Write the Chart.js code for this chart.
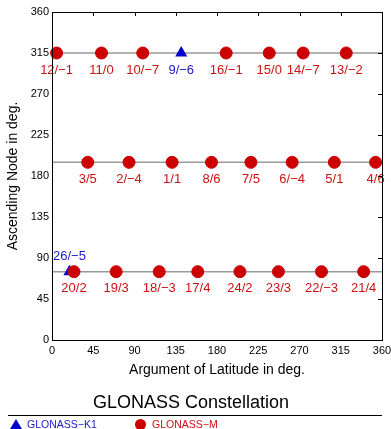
<!DOCTYPE html>
<html>
<head>
<meta charset="utf-8">
<script src="https://cdn.jsdelivr.net/npm/chart.js@4/dist/chart.umd.min.js"></script>
<style>
  body { margin: 0; background: #fff; font-family: 'Liberation Sans', Arial, sans-serif; }
  #wrap { position: relative; width: 391px; height: 429px; }
  #legend { position: absolute; left: 8px; top: 415px; width: 374px; height: 14px; border-top: 1px solid #000; font-size: 10.5px; }
  #legend span { position: absolute; top: 2px; line-height: 12px; }
  .tri { position: absolute; left: 2px; top: 3px; width: 0; height: 0; border-left: 6px solid transparent; border-right: 6px solid transparent; border-bottom: 10px solid #0000cc; }
  .dot { position: absolute; left: 127px; top: 3px; width: 11px; height: 11px; border-radius: 50%; background: #cc0000; }
</style>
</head>
<body>
<div id="wrap">
  <canvas id="chart" width="391" height="429"></canvas>
  <div id="legend">
    <div class="tri"></div><span style="left:19px;color:#1a1acc">GLONASS−K1</span>
    <div class="dot"></div><span style="left:144px;color:#cc1111">GLONASS−M</span>
  </div>
</div>
<script>
// orbital planes (ascending node, deg)
const planeNodes = [315, 195, 75];

// GLONASS-M satellites: slot/frequency channel
const mSlots = ['12/−1', '11/0', '10/−7', '16/−1', '15/0', '14/−7', '13/−2',
                '3/5', '2/−4', '1/1', '8/6', '7/5', '6/−4', '5/1', '4/6',
                '20/2', '19/3', '18/−3', '17/4', '24/2', '23/3', '22/−3', '21/4'];
const mArgLat = [5, 54, 99, 190, 237, 274, 321,
                 39, 84, 131, 174, 217, 262, 308, 353,
                 24, 70, 117, 159, 205, 247, 294, 340];
const mNode = [315, 315, 315, 315, 315, 315, 315,
               195, 195, 195, 195, 195, 195, 195, 195,
               75, 75, 75, 75, 75, 75, 75, 75];

// GLONASS-K1 satellites
const k1Slots = ['9/−6', '26/−5'];
const k1ArgLat = [141, 19];
const k1Node = [315, 75];

const axisTicks = [0, 45, 90, 135, 180, 225, 270, 315, 360];
const labelsAbove = ['26/−5'];

const FONT = "'Liberation Sans', Arial, sans-serif";

const toPoints = (xs, ys) => xs.map((x, i) => ({ x: x, y: ys[i] }));

// slot labels under (or above) each marker
const slotLabels = {
    id: 'slotLabels',
    afterDatasetsDraw(chart) {
        const ctx = chart.ctx;
        ctx.save();
        ctx.font = '13px ' + FONT;
        ctx.textAlign = 'center';
        ctx.textBaseline = 'middle';
        chart.data.datasets.forEach((ds, i) => {
            if (!ds.slots) return;
            ctx.fillStyle = ds.labelColor;
            chart.getDatasetMeta(i).data.forEach((pt, j) => {
                const txt = ds.slots[j];
                const dy = labelsAbove.includes(txt) ? -15 : 17;
                ctx.fillText(txt, pt.x, pt.y + dy);
            });
        });
        ctx.restore();
    }
};

// box frame with inward ticks on top and right
const frame = {
    id: 'frame',
    afterDraw(chart) {
        const { ctx, chartArea: a, scales: { x, y } } = chart;
        ctx.save();
        ctx.strokeStyle = '#000';
        ctx.lineWidth = 1;
        ctx.strokeRect(Math.round(a.left) + 0.5, Math.round(a.top) + 0.5,
                       Math.round(a.width), Math.round(a.height));
        ctx.beginPath();
        axisTicks.forEach(v => {
            const px = Math.round(x.getPixelForValue(v)) + 0.5;
            ctx.moveTo(px, a.top);
            ctx.lineTo(px, a.top + 4);
            const py = Math.round(y.getPixelForValue(v)) + 0.5;
            ctx.moveTo(a.right, py);
            ctx.lineTo(a.right - 4, py);
        });
        ctx.stroke();
        ctx.restore();
    }
};

const planeSets = planeNodes.map(n => ({
    type: 'line',
    data: toPoints([0, 360], [n, n]),
    borderColor: '#9a9a9a',
    borderWidth: 1.5,
    pointRadius: 0,
    order: 3
}));

new Chart(document.getElementById('chart'), {
    type: 'scatter',
    data: {
        datasets: [
            ...planeSets,
            {
                label: 'GLONASS-K1',
                data: toPoints(k1ArgLat, k1Node),
                slots: k1Slots,
                labelColor: '#1a1acc',
                pointStyle: 'triangle',
                pointRadius: 7,
                backgroundColor: '#0000cc',
                borderColor: '#0000cc',
                borderWidth: 0,
                order: 2
            },
            {
                label: 'GLONASS-M',
                data: toPoints(mArgLat, mNode),
                slots: mSlots,
                labelColor: '#cc1111',
                pointStyle: 'circle',
                pointRadius: 6,
                backgroundColor: '#cc0000',
                borderColor: '#cc0000',
                borderWidth: 1,
                order: 1
            }
        ]
    },
    options: {
        responsive: false,
        animation: false,
        devicePixelRatio: 1,
        clip: false,
        layout: { padding: { left: 0, right: 9, top: 12, bottom: 15.4 } },
        plugins: {
            legend: { display: false },
            tooltip: { enabled: false },
            title: {
                display: true,
                position: 'bottom',
                text: 'GLONASS Constellation',
                color: '#000',
                font: { family: FONT, size: 18, weight: 'normal' },
                padding: { top: 8, bottom: 0 }
            }
        },
        scales: {
            x: {
                type: 'linear',
                min: 0,
                max: 360,
                afterBuildTicks: s => { s.ticks = axisTicks.map(v => ({ value: v })); },
                afterFit: s => { s.height = 44; s.paddingLeft = 0; s.paddingRight = 0; },
                grid: { display: false, drawTicks: false },
                border: { display: false },
                ticks: { padding: 4, color: '#000', font: { family: FONT, size: 11 }, maxRotation: 0 },
                title: {
                    display: true,
                    text: 'Argument of Latitude in deg.',
                    color: '#000',
                    font: { family: FONT, size: 14 },
                    padding: 5
                }
            },
            y: {
                type: 'linear',
                min: 0,
                max: 360,
                afterBuildTicks: s => { s.ticks = axisTicks.map(v => ({ value: v })); },
                afterFit: s => { s.width = 52; s.paddingTop = 0; s.paddingBottom = 0; },
                grid: { display: false, drawTicks: false },
                border: { display: false },
                ticks: { padding: 3, color: '#000', font: { family: FONT, size: 11 } },
                title: {
                    display: true,
                    text: 'Ascending Node in deg.',
                    color: '#000',
                    font: { family: FONT, size: 14 },
                    padding: 5
                }
            }
        }
    },
    plugins: [slotLabels, frame]
});
</script>
</body>
</html>
